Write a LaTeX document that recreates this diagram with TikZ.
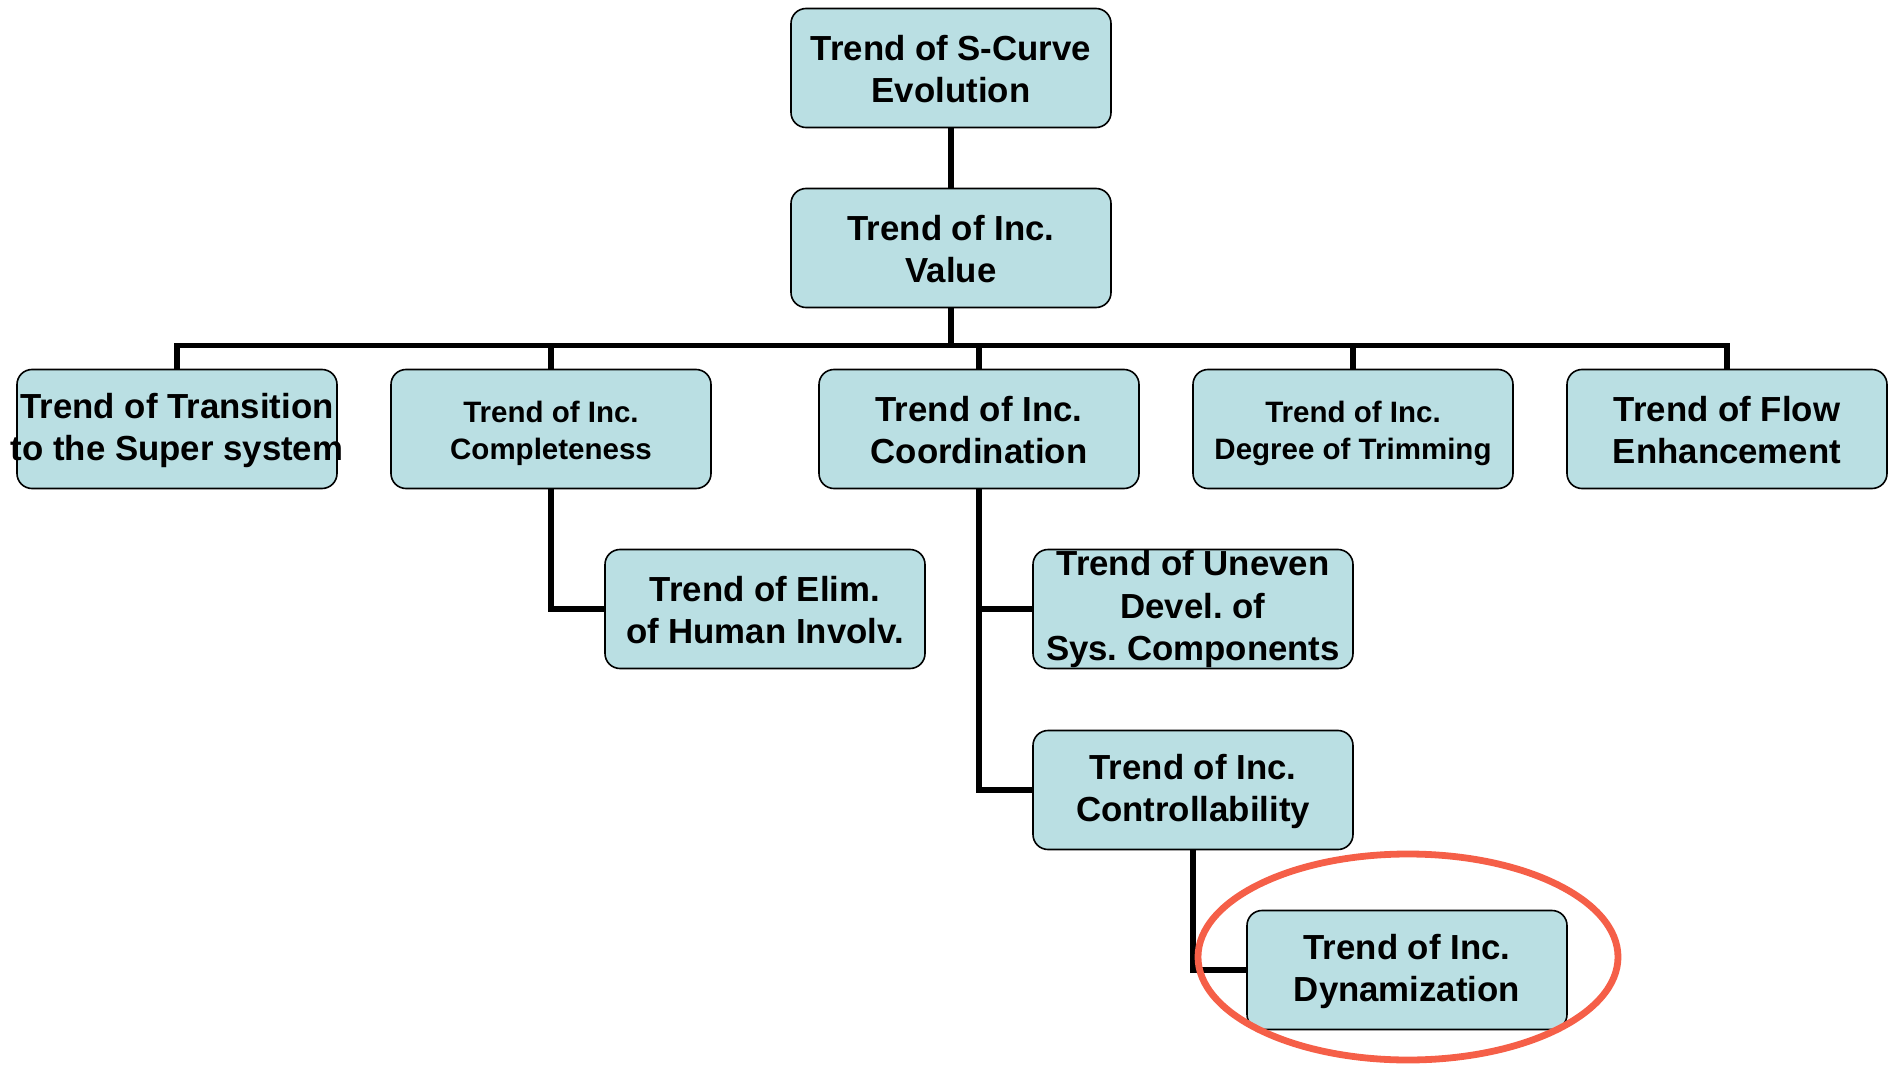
\documentclass[tikz,border=0pt]{standalone}
\usepackage{fontspec}
\setmainfont{Liberation Sans}
\usepackage{tikz}
\usetikzlibrary{positioning}
\definecolor{boxfill}{RGB}{186,223,227}
\definecolor{ringred}{RGB}{245,95,72}
\newlength{\trendgap}
\newcommand{\bigtrend}{\fontsize{17.4}{21.1}\selectfont\bfseries\setlength{\trendgap}{2pt}}
\newcommand{\smalltrend}{\fontsize{14.75}{18.2}\selectfont\bfseries\setlength{\trendgap}{5.1pt}}
\newcommand{\wide}[1]{\makebox[0pt]{#1}}
\newcommand{\ts}{\rule{0pt}{\dimexpr\fontcharht\font`d+\trendgap\relax}}
\frenchspacing

\begin{document}
\begin{tikzpicture}[x=0.5pt, y=-0.5pt,
    trend/.style={draw=black, line width=0.8pt, fill=boxfill, rounded corners=7.5pt,
      minimum width=160pt, minimum height=59.5pt, inner sep=0pt, align=center, font=\bigtrend},
    link/.style={line width=2.7pt},
    ring/.style={draw=ringred, line width=3.4pt}]
      \useasboundingbox (0,0) rectangle (1897,1065);

      \node[trend] (scurve) at (951,68) {\ts Trend of S-Curve\\Evolution};
      \node[trend] (value) at (951,248) {\ts Trend of Inc.\\Value};

      \node[trend] (superSys) at (177,429) {\ts\wide{Trend of Transition}\\\wide{to the Super system}};
      \node[trend, font=\smalltrend] (complete) at (551,429) {\ts Trend of Inc.\\Completeness};
      \node[trend] (coord) at (979,429) {\ts Trend of Inc.\\Coordination};
      \node[trend, font=\smalltrend] (trimming) at (1353,429) {\ts Trend of Inc.\\Degree of Trimming};
      \node[trend] (flow) at (1727,429) {\ts Trend of Flow\\Enhancement};

      \node[trend] (human) at (765,609) {\ts Trend of Elim.\\of Human Involv.};
      \node[trend] (uneven) at (1193,609) {Trend of Uneven\\Devel. of\\\wide{Sys. Components}};
      \node[trend] (control) at (1193,790) {\ts Trend of Inc.\\Controllability};
      \node[trend] (dynam) at (1407,970) {\ts Trend of Inc.\\Dynamization};

      \draw[link] (scurve.south) -- (value.north);
      \foreach \n in {superSys, complete, coord, trimming, flow}
      \draw[link] (value.south) -- ++(0,37) -| (\n.north);

      \draw[link] (complete.south) |- (human.west);
      \draw[link] (coord.south) |- (uneven.west);
      \draw[link] (coord.south) |- (control.west);
      \draw[link] (control.south) |- (dynam.west);

      % highlight
      \draw[ring] (1408,957) ellipse [x radius=105pt, y radius=51.5pt];
    \end{tikzpicture}
\end{document}
